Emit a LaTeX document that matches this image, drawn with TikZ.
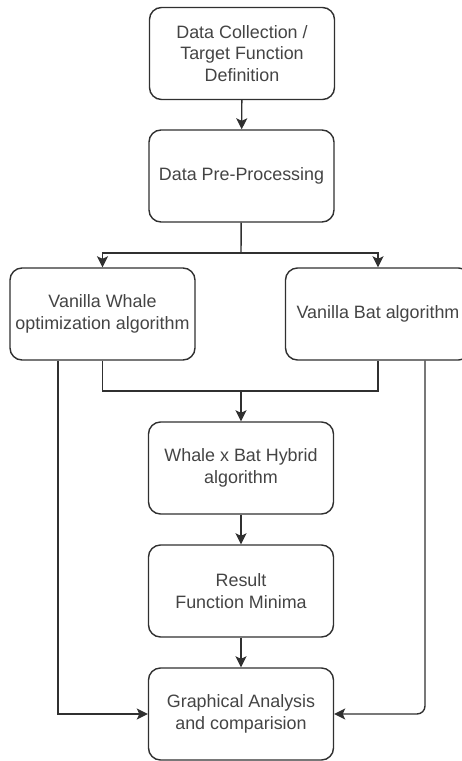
\documentclass[tikz,border=0pt]{standalone}
\usepackage{fontspec}
\setmainfont{Liberation Sans}
\usetikzlibrary{arrows.meta,positioning}
\definecolor{txtgray}{HTML}{444444}
\definecolor{linegray}{HTML}{303030}
\begin{document}
\begin{tikzpicture}[x=1pt,y=-1pt,
        stepbox/.style={draw=linegray, line width=1.4pt, rounded corners=12pt,
            minimum width=185pt, minimum height=92pt, inner sep=0pt,
            align=center, text=txtgray, font=\fontsize{17.9}{21.5}\selectfont},
        flow/.style={draw=linegray, line width=1.4pt, -{Stealth[length=11pt,width=11pt,inset=2.5pt]}},
        link/.style={draw=linegray, line width=1.4pt}]
        \useasboundingbox (0,0) rectangle (461,761);
        \node[stepbox] (collect) at (242,53.5) {Data Collection /\\Target Function\\Definition};
        \node[stepbox] (prep) at (241.5,176) {Data Pre-Processing};
        \node[stepbox] (whale) at (102.5,314) {Vanilla Whale\\optimization algorithm};
        \node[stepbox] (bat) at (378,314) {Vanilla Bat algorithm};
        \node[stepbox] (hybrid) at (241,468) {Whale x Bat Hybrid\\algorithm};
        \node[stepbox] (result) at (241,591) {Result\\Function Minima};
        \node[stepbox] (graph) at (241,714) {Graphical Analysis\\and comparision};
        \coordinate (split) at (241,253);
        \coordinate (join) at (241,391);
        \draw[flow] (collect) -- (prep);
        \draw[link] (prep) -- (split);
        \draw[flow] (split) -| (whale.north);
        \draw[flow] (split) -| (bat.north);
        \draw[link] (whale.south) |- (join) -| (bat.south);
        \draw[flow] (join) -- (hybrid);
        \draw[flow] (hybrid) -- (result);
        \draw[flow] (result) -- (graph);
        \draw[flow] ([xshift=-44.5pt]whale.south) |- (graph.west);
        \draw[flow, rounded corners=8pt] ([xshift=47pt]bat.south) |- (graph.east);
\end{tikzpicture}
\end{document}
